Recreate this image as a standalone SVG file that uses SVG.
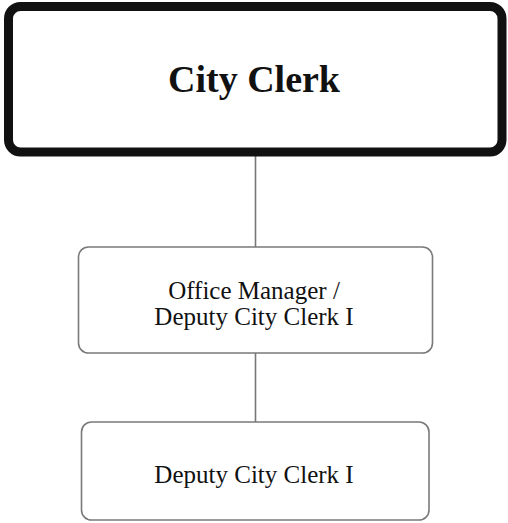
<svg xmlns="http://www.w3.org/2000/svg" width="508" height="523" viewBox="0 0 508 523">
<style>
.box{fill:#fff;stroke:#7a7a7a;stroke-width:1.6}
.t{font-family:"Liberation Serif","Times New Roman",serif;fill:#111;text-anchor:middle}
.c{stroke:#777;stroke-width:1.6;fill:none}
</style>
<rect width="508" height="523" fill="#fff"/>
<g id="connectors">
<line class="c" x1="255.5" y1="156" x2="255.5" y2="247"/>
<line class="c" x1="255.5" y1="353" x2="255.5" y2="422"/>
</g>
<g id="city-clerk">
<rect x="8.5" y="6.5" width="493.5" height="145.5" rx="12" fill="#fff" stroke="#111" stroke-width="9"/>
<text class="t" x="254" y="92" font-size="38" font-weight="bold">City Clerk</text>
</g>
<g id="office-manager">
<rect class="box" x="78.5" y="247" width="354" height="106" rx="10"/>
<text class="t" x="254" y="299" font-size="25">Office Manager /</text>
<text class="t" x="254" y="325" font-size="25">Deputy City Clerk I</text>
</g>
<g id="deputy-clerk">
<rect class="box" x="81.5" y="422" width="347.5" height="98" rx="10"/>
<text class="t" x="254" y="483" font-size="25">Deputy City Clerk I</text>
</g>
</svg>
